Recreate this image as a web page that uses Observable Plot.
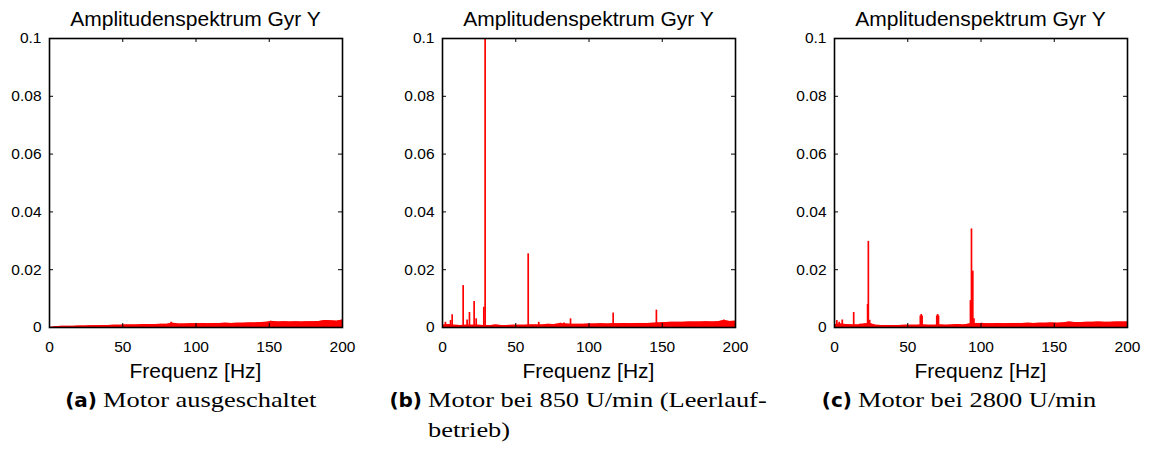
<!DOCTYPE html>
<html>
<head>
<meta charset="utf-8">
<script src="https://cdn.jsdelivr.net/npm/d3@7"></script>
<script src="https://cdn.jsdelivr.net/npm/@observablehq/plot@0.6"></script>
<style>
  body { margin: 0; background: #fff; }
  #root { position: relative; width: 1149px; height: 456px; overflow: hidden; background: #fff; }
  .panel { position: absolute; top: 0; }
  .title, .xlabel { position: absolute; font-family: "Liberation Sans", Arial, sans-serif; font-size: 21px; line-height: 21px; text-align: center; white-space: nowrap; color: #000; }
  .cap { position: absolute; font-family: "Liberation Serif", "Times New Roman", serif; font-size: 22px; line-height: 30px; color: #000; white-space: nowrap; }
  .cap .txt { display: block; transform: scaleX(1.2); transform-origin: 0 0; }
  .cap .lab { position: absolute; top: 0; right: calc(100% + 6px); font-family: "DejaVu Sans", sans-serif; font-weight: bold; font-size: 20px; line-height: 30px; }
</style>
</head>
<body>
<div id="root"></div>
<script>
// ---------- data ----------
const titles = ["Amplitudenspektrum Gyr Y", "Amplitudenspektrum Gyr Y", "Amplitudenspektrum Gyr Y"];
const xLabel = "Frequenz [Hz]";
const capLabels = ["(a)", "(b)", "(c)"];
const capTexts = [["Motor ausgeschaltet"], ["Motor bei 850 U/min (Leerlauf-", "betrieb)"], ["Motor bei 2800 U/min"]];

const xTicks = [0, 50, 100, 150, 200];
const yTicks = [0, 0.02, 0.04, 0.06, 0.08, 0.1];
const yTickLabels = ["0", "0.02", "0.04", "0.06", "0.08", "0.1"];

// noise floor envelope sampled every 4 Hz
const floorFreq = [0,4,8,12,16,20,24,28,32,36,40,44,48,52,56,60,64,68,72,76,80,84,88,92,96,100,104,108,112,116,120,124,128,132,136,140,144,148,152,156,160,164,168,172,176,180,184,188,192,196,200];

const floorA = [0,0.0003,0.0004,0.0004,0.0004,0.0005,0.0005,0.0006,0.0006,0.0007,0.0007,0.0008,0.0008,0.0009,0.0009,0.0009,0.0010,0.0010,0.0010,0.0011,0.0011,0.0015,0.0012,0.0012,0.0013,0.0013,0.0014,0.0013,0.0014,0.0014,0.0015,0.0014,0.0015,0.0015,0.0016,0.0016,0.0017,0.0018,0.0021,0.0019,0.0020,0.0019,0.0020,0.0019,0.0020,0.0020,0.0021,0.0024,0.0023,0.0022,0.0026];

const floorB = [0.0008,0.0010,0.0008,0.0007,0.0008,0.0008,0.0008,0.0007,0.0006,0.0009,0.0007,0.0007,0.0008,0.0008,0.0008,0.0009,0.0009,0.0009,0.0011,0.0010,0.0013,0.0012,0.0011,0.0011,0.0011,0.0012,0.0012,0.0013,0.0012,0.0013,0.0013,0.0014,0.0013,0.0014,0.0014,0.0014,0.0015,0.0016,0.0017,0.0018,0.0018,0.0018,0.0019,0.0019,0.0019,0.0020,0.0019,0.0020,0.0024,0.0021,0.0022];

const floorC = [0.0010,0.0012,0.0010,0.0009,0.0009,0.0012,0.0014,0.0008,0.0007,0.0007,0.0007,0.0007,0.0008,0.0008,0.0008,0.0009,0.0008,0.0008,0.0009,0.0008,0.0009,0.0010,0.0009,0.0012,0.0014,0.0014,0.0013,0.0013,0.0014,0.0013,0.0014,0.0014,0.0014,0.0015,0.0014,0.0015,0.0015,0.0016,0.0015,0.0016,0.0019,0.0017,0.0017,0.0018,0.0018,0.0019,0.0018,0.0018,0.0019,0.0019,0.0019];

// spectral peaks
const peakFreqA = [83, 151, 188];
const peakAmpA  = [0.0018, 0.0022, 0.0024];

const peakFreqB = [2.0, 5.5, 6.6, 14.1, 16.8, 18.4, 21.6, 23.0, 28.2, 29.1, 58.5, 65.7, 80.5, 83.0, 87.4, 116.5, 146.0, 192.0];
const peakAmpB  = [0.0018, 0.0024, 0.0044, 0.0145, 0.0026, 0.0052, 0.0090, 0.0030, 0.0070, 0.115, 0.0255, 0.0018, 0.0015, 0.0016, 0.0030, 0.0050, 0.0060, 0.0026];

const peakFreqC = [1.6, 3.2, 5.3, 13.1, 17.6, 22.6, 23.1, 24.0, 58.6, 59.2, 59.8, 69.8, 70.4, 71.0, 92.8, 93.5, 94.4, 95.2, 100.5];
const peakAmpC  = [0.0024, 0.0018, 0.0026, 0.0052, 0.0012, 0.0080, 0.0298, 0.0025, 0.0040, 0.0045, 0.0040, 0.0040, 0.0045, 0.0040, 0.0093, 0.0341, 0.0195, 0.0030, 0.0015];

// ---------- layout ----------
const panels = [
  {left: 0,   ml: 49, mr: 41, floor: floorA, pf: peakFreqA, pa: peakAmpA, capX: 103},
  {left: 383, ml: 59, mr: 31, floor: floorB, pf: peakFreqB, pa: peakAmpB, capX: 428},
  {left: 766, ml: 68, mr: 22, floor: floorC, pf: peakFreqC, pa: peakAmpC, capX: 858}
];
const W = 383, H = 385, MT = 38, MB = 58, TICK = 4;
const red = "#ff0000";
const root = document.getElementById("root");

panels.forEach((p, k) => {
  const floorData = floorFreq.map((f, i) => ({f, a: p.floor[i]}));
  const peakData = p.pf.map((f, i) => ({f, a: p.pa[i]}));
  const plotW = W - p.ml - p.mr, plotH = H - MT - MB;

  const chart = Plot.plot({
    width: W, height: H,
    marginTop: MT, marginBottom: MB, marginLeft: p.ml, marginRight: p.mr,
    style: {fontFamily: "Liberation Sans, Arial, sans-serif", fontSize: "15.5px", color: "#000", background: "transparent", overflow: "visible"},
    x: {domain: [0, 200]},
    y: {domain: [0, 0.1]},
    marks: [
      Plot.areaY(floorData, {x: "f", y: "a", fill: red, curve: "linear"}),
      Plot.lineY(floorData, {x: "f", y: "a", stroke: red, strokeWidth: 1}),
      Plot.ruleX(peakData, {x: "f", y1: 0, y2: "a", stroke: red, strokeWidth: 1.7, clip: true}),
      Plot.axisX(xTicks, {anchor: "bottom", tickSize: 0, tickPadding: 13, label: null, fontSize: 15.5}),
      Plot.axisY(yTicks, {anchor: "left", tickSize: 0, tickPadding: 8, tickFormat: d => yTickLabels[yTicks.indexOf(d)], label: null, fontSize: 15.5}),
      // inward ticks on all four sides
      Plot.tickX(xTicks, {x: d => d, stroke: "#000", strokeWidth: 1, insetTop: plotH - TICK}),
      Plot.tickX(xTicks, {x: d => d, stroke: "#000", strokeWidth: 1, insetBottom: plotH - TICK}),
      Plot.tickY(yTicks, {y: d => d, stroke: "#000", strokeWidth: 1, insetRight: plotW - TICK}),
      Plot.tickY(yTicks, {y: d => d, stroke: "#000", strokeWidth: 1, insetLeft: plotW - TICK}),
      Plot.frame({stroke: "#000", strokeWidth: 1.6})
    ]
  });

  const panel = document.createElement("div");
  panel.className = "panel";
  panel.style.left = p.left + "px";
  panel.appendChild(chart);
  root.appendChild(panel);

  const cx = p.left + p.ml + plotW / 2;

  const t = document.createElement("div");
  t.className = "title";
  t.textContent = titles[k];
  t.style.left = (cx - 200) + "px";
  t.style.width = "400px";
  t.style.top = "8px";
  root.appendChild(t);

  const xl = document.createElement("div");
  xl.className = "xlabel";
  xl.textContent = xLabel;
  xl.style.left = (cx - 200) + "px";
  xl.style.width = "400px";
  xl.style.top = "360px";
  root.appendChild(xl);

  const cap = document.createElement("div");
  cap.className = "cap";
  cap.style.left = p.capX + "px";
  cap.style.top = "385px";
  const lab = document.createElement("span");
  lab.className = "lab";
  lab.textContent = capLabels[k];
  cap.appendChild(lab);
  capTexts[k].forEach(line => {
    const s = document.createElement("span");
    s.className = "txt";
    s.textContent = line;
    cap.appendChild(s);
  });
  root.appendChild(cap);
});
</script>
</body>
</html>
